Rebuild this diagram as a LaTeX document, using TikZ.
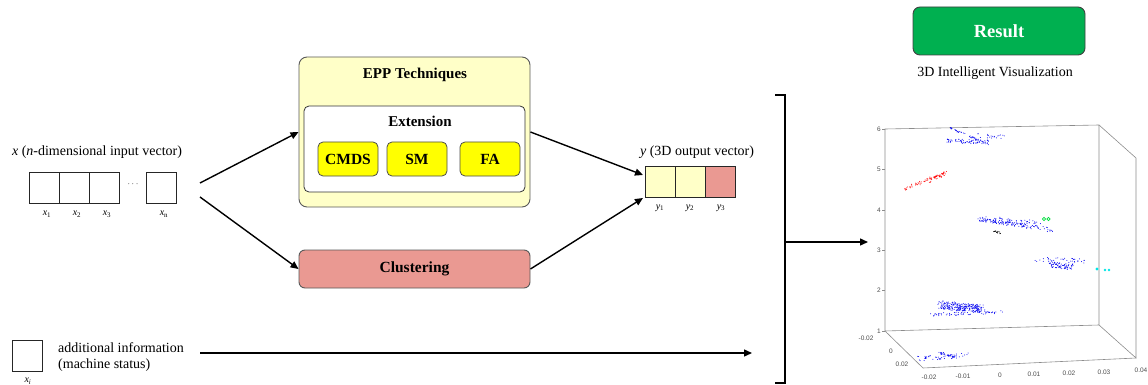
\documentclass[tikz,border=0pt]{standalone}
\usepackage{fontspec}
\setmainfont{Liberation Serif}
\newfontfamily\plotfont{Liberation Sans}
\usetikzlibrary{arrows.meta}

\definecolor{PaleYellow}{RGB}{255,255,200}
\definecolor{BoxYellow}{RGB}{255,255,0}
\definecolor{Salmon}{RGB}{234,153,146}
\definecolor{ResultGreen}{RGB}{0,176,80}
\definecolor{PlotBlue}{RGB}{0,0,240}
\definecolor{PlotCyan}{RGB}{0,230,230}
\definecolor{PlotGreen}{RGB}{0,220,60}

\newcommand{\drawcloud}[8]{% Parameters: color, x1, y1, x2, y2, x spread, y spread, count
  \foreach \k in {1,...,#8}{
    \pgfmathsetmacro{\ct}{rnd}
    \pgfmathsetmacro{\cx}{#2+(#4-#2)*\ct+#6*(rnd-0.5)}
    \pgfmathsetmacro{\cy}{#3+(#5-#3)*\ct+#7*(rnd-0.5)}
    \fill[#1] (\cx,\cy) circle[radius=0.5pt];
  }
}
\newcommand{\drawtick}[3]{% Parameters: x, y, label
  \draw[black!45,line width=0.4pt] (#1,#2) -- ++(-3,0);
  \node[ticklabel,anchor=east] at (#1-4,#2) {#3};
}

\begin{document}
\begin{tikzpicture}[x=1pt,y=-1pt,
  every node/.style={inner sep=0pt,font=\fontsize{14}{16}\selectfont},
  cell/.style={draw=black!85,line width=0.8pt,minimum width=30,minimum height=31},
  sublabel/.style={font=\fontsize{10}{11}\selectfont},
  outerbox/.style={draw=black!65,line width=0.9pt,rounded corners=8pt,fill=PaleYellow},
  innerbox/.style={draw=black!80,line width=0.8pt,rounded corners=5pt,fill=white},
  title/.style={font=\fontsize{15}{17}\selectfont\bfseries},
  methodbox/.style={draw=black!70,line width=0.8pt,rounded corners=5pt,fill=BoxYellow,
    minimum width=60,minimum height=34,font=\fontsize{15.5}{17}\selectfont\bfseries},
  flow/.style={line width=1.4pt,-{Triangle[length=8pt,width=7pt]}},
  ticklabel/.style={font=\plotfont\fontsize{6.5}{7}\selectfont,text=black!70},
  axisline/.style={draw=black!45,line width=0.6pt}]
\useasboundingbox (0,0) rectangle (1148,385);

% input vector
\node (xlab) at (97,152) {\textit{x} (\textit{n}-dimensional input vector)};
\node[cell] (x1) at (44,187.5) {};
\node[cell] (x2) at (74,187.5) {};
\node[cell] (x3) at (104,187.5) {};
\node (xdots) at (133,184) {\fontsize{9}{9}\selectfont $\cdots$};
\node[cell] (xn) at (161,187.5) {};
\node[sublabel] (lx1) at (47,214) {\textit{x}\textsubscript{1}};
\node[sublabel] (lx2) at (77,214) {\textit{x}\textsubscript{2}};
\node[sublabel] (lx3) at (107,214) {\textit{x}\textsubscript{3}};
\node[sublabel] (lxn) at (164,214) {\textit{x}\textsubscript{n}};
\coordinate (xout1) at (200,183);
\coordinate (xout2) at (200,197);

% EPP techniques
\node[outerbox,minimum width=231,minimum height=150] (epp) at (414.5,132) {};
\node[title] (epptitle) at (415,75) {EPP Techniques};
\node[innerbox,minimum width=221,minimum height=86] (ext) at (414.5,149) {};
\node[title] (exttitle) at (420,121) {Extension};
\node[methodbox] (cmds) at (348,159) {CMDS};
\node[methodbox] (sm) at (417,159) {SM};
\node[methodbox] (fa) at (490,159) {FA};

% clustering
\node[draw=black!65,line width=0.9pt,rounded corners=6pt,fill=Salmon,
  minimum width=231,minimum height=38,font=\fontsize{15.5}{17}\selectfont\bfseries] (clust) at (414.5,269) {Clustering};

% output vector
\node (ylab) at (697,152) {\textit{y} (3D output vector)};
\node[cell,fill=PaleYellow] (y1) at (660,181.5) {};
\node[cell,fill=PaleYellow] (y2) at (690,181.5) {};
\node[cell,fill=Salmon] (y3) at (720.5,181.5) {};
\node[sublabel] (ly1) at (660,208) {\textit{y}\textsubscript{1}};
\node[sublabel] (ly2) at (690,208) {\textit{y}\textsubscript{2}};
\node[sublabel] (ly3) at (721,208) {\textit{y}\textsubscript{3}};
\coordinate (yin1) at (643,175);
\coordinate (yin2) at (643,198);

\draw[flow] (xout1) -- (epp.west);
\draw[flow] (xout2) -- (clust.west);
\draw[flow] (epp.east) -- (yin1);
\draw[flow] (clust.east) -- (yin2);

% additional information
\node[cell] (xi) at (27,355.5) {};
\node[sublabel] (lxi) at (28,381) {\textit{x}\textsubscript{\textit{i}}};
\node[anchor=west,align=left] (addinfo) at (58,357) {additional information\\(machine status)};
\coordinate (addout) at (200,353);
\coordinate (addin) at (752,353);
\draw[flow] (addout) -- (addin);

% bracket
\coordinate (brtop) at (775,95);
\coordinate (brbot) at (775,383);
\coordinate (brmid) at (785,242);
\coordinate (plotin) at (868,242);
\draw[line width=1.4pt] (brtop) -- ++(10,0) -- ++(0,288) -- (brbot);
\draw[flow] (brmid) -- (plotin);

% result
\node[draw=black!75,line width=0.9pt,rounded corners=7pt,fill=ResultGreen,text=white,
  minimum width=172,minimum height=48,font=\fontsize{18.5}{20}\selectfont\bfseries] (result) at (999,31) {Result};
\node (vislab) at (995,73) {3D Intelligent Visualization};

% 3D plot
\coordinate (ftl) at (885,129);
\coordinate (ftr) at (1099,125);
\coordinate (fbl) at (885,331);
\coordinate (fbr) at (1099,325);
\coordinate (btr) at (1136,158);
\coordinate (bbr) at (1136,358);
\coordinate (bbl) at (923,368);
\draw[axisline] (ftl) -- (ftr) -- (fbr) -- (fbl) -- cycle;
\draw[axisline] (ftr) -- (btr) -- (bbr) -- (fbr);
\draw[axisline] (fbl) -- (bbl) -- (bbr);
\foreach \z/\yy in {6/129,5/169,4/210,3/250,2/290,1/331}{
  \drawtick{885}{\yy}{\z}
}
\node[ticklabel] (ta1) at (866,338) {-0.02};
\node[ticklabel] (ta2) at (891,351) {0};
\node[ticklabel] (ta3) at (902,364) {0.02};
\foreach \lab/\xx/\yy in {-0.02/929/377,-0.01/963/376,0/1000/375,0.01/1034/374,0.02/1069/373,0.03/1104/372,0.04/1141/370}{
  \node[ticklabel] at (\xx,\yy) {\lab};
}

% scatter
\pgfmathsetseed{11}
\drawcloud{PlotBlue}{950}{128}{988}{144}{2}{2}{45}
\drawcloud{PlotBlue}{947}{141}{990}{142}{6}{4}{70}
\drawcloud{PlotBlue}{980}{135}{1001}{137}{8}{4}{20}
\drawcloud{red}{905}{189}{947}{172}{3}{3}{50}
\drawcloud{red}{926}{182}{946}{173}{3}{4}{40}
\drawcloud{PlotBlue}{978}{219}{1052}{230}{5}{4}{110}
\drawcloud{PlotBlue}{980}{219}{1040}{223}{8}{6}{70}
\drawcloud{black}{994}{231}{1000}{233}{1}{2}{15}
\draw[PlotGreen,line width=0.8pt] (1044,219) circle[radius=1.6pt] (1048.5,219) circle[radius=1.6pt];
\drawcloud{PlotBlue}{1033}{259}{1083}{262}{8}{6}{40}
\drawcloud{PlotBlue}{1050}{264}{1072}{267}{4}{6}{70}
\fill[PlotCyan] (1097,269) circle[radius=1.6pt] (1105,270) circle[radius=1.3pt] (1109,270) circle[radius=1.3pt];
\drawcloud{PlotBlue}{923}{315}{1002}{312}{4}{3}{60}
\drawcloud{PlotBlue}{940}{305}{982}{309}{8}{8}{260}
\drawcloud{PlotBlue}{917}{359}{967}{355}{5}{5}{50}
\drawcloud{PlotBlue}{940}{353}{953}{357}{3}{3}{30}
\end{tikzpicture}
\end{document}
